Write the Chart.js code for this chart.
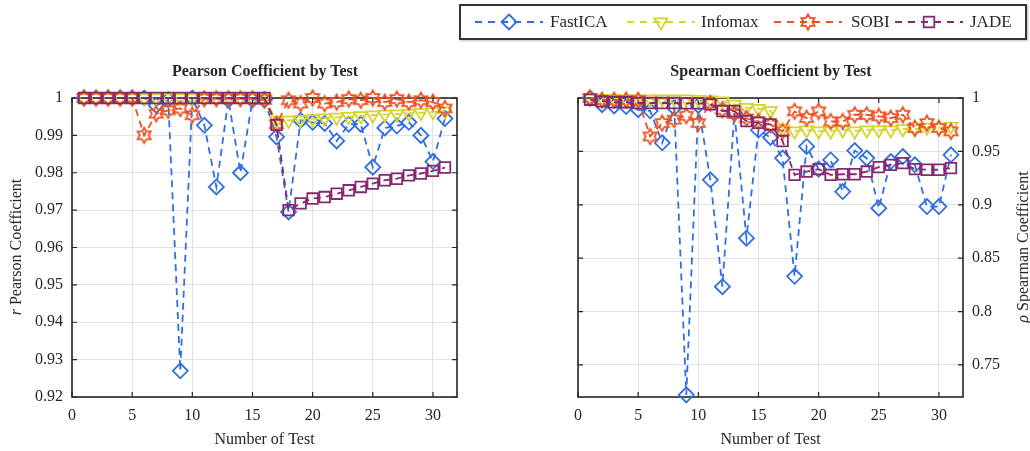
<!DOCTYPE html>
<html lang="en">
<head>
  <meta charset="UTF-8">
  <title>Pearson &amp; Spearman Coefficient by Test</title>
  <script src="https://cdn.jsdelivr.net/npm/chart.js"></script>
  <style>
    body {
      margin: 0;
      width: 1030px;
      height: 451px;
      position: relative;
      overflow: hidden;
      background: #fff;
      font-family: "Liberation Serif", "Times New Roman", serif;
      color: #262626;
    }
    canvas { position: absolute; top: 0; }
    #pearson { left: 0; }
    #spearman { left: 480px; }
    .plot-title {
      position: absolute;
      top: 61px;
      width: 400px;
      text-align: center;
      font-weight: bold;
      font-size: 16px;
      line-height: 20px;
    }
    .ylabel {
      position: absolute;
      width: 300px;
      height: 20px;
      line-height: 20px;
      text-align: center;
      font-size: 16px;
      transform: rotate(-90deg);
    }
    #legend {
      position: absolute;
      left: 459px;
      top: 4px;
      width: 568px;
      height: 36px;
      box-sizing: border-box;
      border: 2px solid #333;
      box-shadow: 1px 1px 2px rgba(0,0,0,0.25);
      background: #fff;
    }
    #legend svg { position: absolute; top: 6px; }
    #legend span { position: absolute; top: 6px; font-size: 17px; line-height: 20px; }
  </style>
</head>
<body>
  <canvas id="pearson" width="480" height="451"></canvas>
  <canvas id="spearman" width="550" height="451"></canvas>

  <div class="plot-title" style="left:65px;">Pearson Coefficient by Test</div>
  <div class="plot-title" style="left:571px;">Spearman Coefficient by Test</div>
  <div class="ylabel" style="left:-134px; top:237px;"><i>r</i> Pearson Coefficient</div>
  <div class="ylabel" style="left:873px; top:237px;"><i>ρ</i> Spearman Coefficient</div>

  <div id="legend"></div>

  <script>
    // ---- data ----
    const tests = [1, 2, 3, 4, 5, 6, 7, 8, 9, 10, 11, 12, 13, 14, 15, 16,
                   17, 18, 19, 20, 21, 22, 23, 24, 25, 26, 27, 28, 29, 30, 31];
    const xTicks = [0, 5, 10, 15, 20, 25, 30];
    const pearsonTicks = [0.92, 0.93, 0.94, 0.95, 0.96, 0.97, 0.98, 0.99, 1];
    const spearmanTicks = [0.75, 0.8, 0.85, 0.9, 0.95, 1];
    const methods = ['FastICA', 'Infomax', 'SOBI', 'JADE'];

    // Pearson r per test
    const pearsonFastICA = [1, 1, 1, 1, 1, 1, 0.998, 0.9995, 0.927, 1, 0.9927, 0.9762, 0.9995, 0.980, 0.9995, 0.9995,
                            0.9896, 0.9695, 0.994, 0.9935, 0.9932, 0.9885, 0.993, 0.993, 0.9815, 0.992, 0.9925, 0.9935, 0.990, 0.983, 0.9945];
    const pearsonInfomax = [1, 1, 1, 1, 1, 1, 1, 1, 1, 1, 1, 1, 1, 1, 1, 1,
                            0.994, 0.9940, 0.9942, 0.9944, 0.9946, 0.9948, 0.9950, 0.9952, 0.9954, 0.9956, 0.9957, 0.9959, 0.9961, 0.9963, 0.9965];
    const pearsonSOBI = [1, 1, 1, 1, 1, 0.990, 0.9958, 0.9967, 0.9972, 0.9954, 0.9998, 0.9998, 0.9998, 0.9998, 0.9998, 0.9995,
                         0.993, 0.9994, 0.9985, 1, 0.9985, 0.9989, 0.9997, 0.9994, 1, 0.9989, 0.9997, 0.9989, 0.9994, 0.9989, 0.9972];
    const pearsonJADE = [1, 1, 1, 1, 1, 1, 1, 1, 1, 1, 1, 1, 1, 1, 1, 1,
                         0.9928, 0.970, 0.9718, 0.9731, 0.9735, 0.9744, 0.9753, 0.9762, 0.9771, 0.978, 0.9784, 0.9793, 0.9798, 0.9805, 0.9814];

    // Spearman rho per test
    const spearmanFastICA = [1, 0.9937, 0.9925, 0.992, 0.989, 0.988, 0.958, 0.991, 0.722, 0.993, 0.9234, 0.8233, 0.986, 0.8687, 0.970, 0.963,
                             0.9437, 0.833, 0.9546, 0.9334, 0.942, 0.9124, 0.9508, 0.9437, 0.8968, 0.9405, 0.9452, 0.9374, 0.8983, 0.8983, 0.9468];
    const spearmanInfomax = [1, 0.9995, 0.9995, 0.999, 0.999, 0.999, 0.999, 0.999, 0.999, 0.9985, 0.998, 0.997, 0.994, 0.991, 0.990, 0.988,
                             0.971, 0.969, 0.970, 0.969, 0.969, 0.970, 0.969, 0.970, 0.970, 0.970, 0.971, 0.971, 0.9725, 0.972, 0.9735];
    const spearmanSOBI = [1, 0.998, 0.998, 0.998, 0.998, 0.964, 0.9765, 0.9797, 0.9834, 0.9765, 0.995, 0.989, 0.985, 0.981, 0.978, 0.975,
                          0.9687, 0.9875, 0.9812, 0.9875, 0.978, 0.978, 0.9843, 0.9843, 0.9828, 0.9812, 0.9843, 0.9718, 0.9765, 0.9718, 0.9687];
    const spearmanJADE = [0.9984, 0.9968, 0.996, 0.996, 0.9953, 0.9953, 0.9953, 0.9953, 0.995, 0.995, 0.994, 0.9878, 0.9878, 0.9784, 0.9768, 0.9752,
                          0.9597, 0.928, 0.9311, 0.9334, 0.928, 0.9286, 0.9286, 0.9311, 0.9353, 0.9374, 0.939, 0.9334, 0.9328, 0.9328, 0.9343];

    // ---- styling ----
    const BLUE = '#2f6fe2';
    const YELLOW = '#d5d52a';
    const RED = '#ee5020';
    const PURPLE = '#862a70';
    const GRID = '#e2e2e2';
    const INK = '#262626';
    const tickFont = { family: '"Liberation Serif", "Times New Roman", serif', size: 16 };

    // 6-point star outline (MATLAB hexagram marker)
    function hexagram(color) {
      const c = document.createElement('canvas');
      c.width = 20; c.height = 20;
      const g = c.getContext('2d');
      g.strokeStyle = color;
      g.lineWidth = 1.8;
      g.lineJoin = 'miter';
      g.beginPath();
      for (let k = 0; k < 12; k++) {
        const r = k % 2 ? 4.4 : 7.6;
        const a = -Math.PI / 2 + k * Math.PI / 6;
        const px = 10 + r * Math.cos(a), py = 10 + r * Math.sin(a);
        if (k === 0) g.moveTo(px, py); else g.lineTo(px, py);
      }
      g.closePath();
      g.stroke();
      return c;
    }
    const sobiMarker = hexagram(RED);

    const styles = {
      FastICA: { color: BLUE, pointStyle: 'rectRot', radius: 7.5, rotation: 0, order: 4 },
      Infomax: { color: YELLOW, pointStyle: 'triangle', radius: 7.5, rotation: 180, order: 3 },
      SOBI:    { color: RED, pointStyle: sobiMarker, radius: 8, rotation: 0, order: 2 },
      JADE:    { color: PURPLE, pointStyle: 'rect', radius: 7.5, rotation: 0, order: 1 }
    };

    function makeDataset(name, values) {
      const s = styles[name];
      return {
        label: name,
        data: values.map((v, i) => ({ x: tests[i], y: v })),
        borderColor: s.color,
        borderWidth: 1.8,
        borderDash: [7, 5],
        pointStyle: s.pointStyle,
        pointRadius: s.radius,
        pointRotation: s.rotation,
        pointBorderColor: s.color,
        pointBorderWidth: 1.8,
        pointBackgroundColor: 'rgba(0,0,0,0)',
        fill: false,
        tension: 0,
        clip: false,
        order: s.order
      };
    }

    // Box around plot area + inward tick marks
    const frame = {
      id: 'frame',
      beforeDatasetsDraw(chart) {
        const { ctx, chartArea: a, scales } = chart;
        ctx.save();
        ctx.strokeStyle = INK;
        ctx.lineWidth = 1.2;
        ctx.beginPath();
        scales.x.ticks.forEach(t => {
          const px = scales.x.getPixelForValue(t.value);
          ctx.moveTo(px, a.bottom); ctx.lineTo(px, a.bottom - 5);
          ctx.moveTo(px, a.top); ctx.lineTo(px, a.top + 5);
        });
        scales.y.ticks.forEach(t => {
          const py = scales.y.getPixelForValue(t.value);
          ctx.moveTo(a.left, py); ctx.lineTo(a.left + 5, py);
          ctx.moveTo(a.right, py); ctx.lineTo(a.right - 5, py);
        });
        ctx.stroke();
        ctx.lineWidth = 1.6;
        ctx.strokeRect(a.left, a.top, a.right - a.left, a.bottom - a.top);
        ctx.restore();
      }
    };

    function makeChart(canvasId, seriesList, yMin, yMax, yTicks, yPos, pad, yWidth) {
      return new Chart(document.getElementById(canvasId), {
        type: 'line',
        data: { datasets: seriesList.map((vals, i) => makeDataset(methods[i], vals)) },
        options: {
          responsive: false,
          animation: false,
          layout: { padding: pad },
          plugins: { legend: { display: false }, tooltip: { enabled: false } },
          scales: {
            x: {
              type: 'linear',
              min: 0,
              max: 32,
              afterBuildTicks: s => { s.ticks = xTicks.map(v => ({ value: v })); },
              afterFit: s => { s.height = 54; },
              ticks: { font: tickFont, color: INK, padding: 9, maxRotation: 0 },
              grid: { color: GRID, drawTicks: false },
              border: { display: false },
              title: { display: true, text: 'Number of Test', font: tickFont, color: INK, padding: { top: 0, bottom: 2 } }
            },
            y: {
              position: yPos,
              min: yMin,
              max: yMax,
              afterBuildTicks: s => { s.ticks = yTicks.map(v => ({ value: v })); },
              afterFit: s => { s.width = yWidth; },
              ticks: { font: tickFont, color: INK, padding: 9, callback: v => String(+v.toFixed(2)) },
              grid: { color: GRID, drawTicks: false },
              border: { display: false }
            }
          }
        },
        plugins: [frame]
      });
    }

    makeChart('pearson', [pearsonFastICA, pearsonInfomax, pearsonSOBI, pearsonJADE],
      0.92, 1, pearsonTicks, 'left', { top: 98, right: 23, bottom: 0, left: 0 }, 72);
    makeChart('spearman', [spearmanFastICA, spearmanInfomax, spearmanSOBI, spearmanJADE],
      0.72, 1, spearmanTicks, 'right', { top: 98, right: 0, bottom: 0, left: 98 }, 67);

    // ---- legend (line + marker samples, like MATLAB) ----
    const legendSpots = [
      { line: 14, text: 89 },
      { line: 166, text: 240 },
      { line: 313, text: 390 },
      { line: 434, text: 509 }
    ];
    function markerSvg(name, cx, cy) {
      const c = styles[name].color;
      const st = `fill="none" stroke="${c}" stroke-width="1.8"`;
      if (name === 'FastICA') {
        return `<polygon points="${cx},${cy - 7.5} ${cx + 7.5},${cy} ${cx},${cy + 7.5} ${cx - 7.5},${cy}" ${st}/>`;
      }
      if (name === 'Infomax') {
        return `<polygon points="${cx - 6.5},${cy - 3.7} ${cx + 6.5},${cy - 3.7} ${cx},${cy + 7.5}" ${st}/>`;
      }
      if (name === 'SOBI') {
        const pts = [];
        for (let k = 0; k < 12; k++) {
          const r = k % 2 ? 4.4 : 7.6;
          const a = -Math.PI / 2 + k * Math.PI / 6;
          pts.push((cx + r * Math.cos(a)).toFixed(2) + ',' + (cy + r * Math.sin(a)).toFixed(2));
        }
        return `<polygon points="${pts.join(' ')}" ${st}/>`;
      }
      return `<rect x="${cx - 5.3}" y="${cy - 5.3}" width="10.6" height="10.6" ${st}/>`;
    }
    const legendEl = document.getElementById('legend');
    methods.forEach((name, i) => {
      const spot = legendSpots[i];
      const c = styles[name].color;
      legendEl.insertAdjacentHTML('beforeend',
        `<svg width="70" height="20" style="left:${spot.line}px">` +
        `<line x1="0" y1="10" x2="68" y2="10" stroke="${c}" stroke-width="1.8" stroke-dasharray="7 6"/>` +
        markerSvg(name, 34, 10) + `</svg>` +
        `<span style="left:${spot.text}px">${name}</span>`);
    });
  </script>
</body>
</html>
